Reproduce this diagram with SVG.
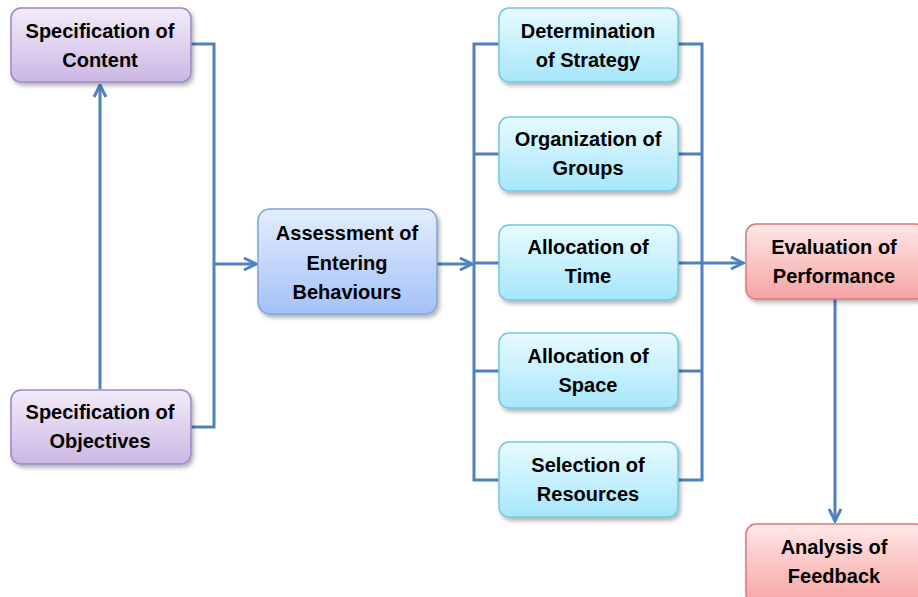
<svg xmlns="http://www.w3.org/2000/svg" width="918" height="597" viewBox="0 0 918 597">
<style>
.t{font-family:"Liberation Sans",Arial,sans-serif;font-weight:bold;font-size:20px;fill:#000;text-anchor:middle}
.c{fill:none;stroke:#4f81bd;stroke-width:3}
</style>
<defs>
<linearGradient id="gp" x1="0" y1="0" x2="0" y2="1"><stop offset="0" stop-color="#f3ecf9"/><stop offset="1" stop-color="#cbb7e3"/></linearGradient>
<linearGradient id="gb" x1="0" y1="0" x2="0" y2="1"><stop offset="0" stop-color="#e3eefe"/><stop offset="1" stop-color="#a4c1f7"/></linearGradient>
<linearGradient id="gc" x1="0" y1="0" x2="0" y2="1"><stop offset="0" stop-color="#e8fbff"/><stop offset="1" stop-color="#a6e6fa"/></linearGradient>
<linearGradient id="gr" x1="0" y1="0" x2="0" y2="1"><stop offset="0" stop-color="#ffe8e8"/><stop offset="1" stop-color="#f6a3a3"/></linearGradient>
<filter id="sh" x="-10%" y="-10%" width="125%" height="130%"><feDropShadow dx="2" dy="3" stdDeviation="2" flood-color="#000" flood-opacity="0.3"/></filter>
<marker id="ah" viewBox="0 0 10 10" refX="9" refY="5" markerWidth="5" markerHeight="5" orient="auto" markerUnits="strokeWidth"><path d="M1,1 L9,5 L1,9" fill="none" stroke="#4f81bd" stroke-width="2"/></marker>
</defs>
<g id="connectors">
<path class="c" d="M191,44 H214 V427 H191"/>
<path class="c" d="M214,264 H256" marker-end="url(#ah)"/>
<path class="c" d="M100,389 V85" marker-end="url(#ah)"/>
<path class="c" d="M437,264 H472" marker-end="url(#ah)"/>
<path class="c" d="M499,44 H474 V480 H499 M474,154 H499 M474,263 H499 M474,371 H499"/>
<path class="c" d="M678,44 H702 V480 H678 M678,154 H702 M678,263 H702 M678,371 H702"/>
<path class="c" d="M702,263 H743" marker-end="url(#ah)"/>
<path class="c" d="M835,299 V521" marker-end="url(#ah)"/>
</g>
<g id="spec-content"><rect x="11" y="8" width="180" height="74" rx="10" fill="url(#gp)" stroke="#9a86c8" stroke-width="1.5" filter="url(#sh)"/><text class="t" x="100" y="38">Specification of</text><text class="t" x="100" y="67">Content</text></g>
<g id="spec-objectives"><rect x="11" y="390" width="180" height="74" rx="10" fill="url(#gp)" stroke="#9a86c8" stroke-width="1.5" filter="url(#sh)"/><text class="t" x="100" y="419">Specification of</text><text class="t" x="100" y="448">Objectives</text></g>
<g id="assessment"><rect x="258" y="209" width="179" height="105" rx="12" fill="url(#gb)" stroke="#7fa3da" stroke-width="1.5" filter="url(#sh)"/><text class="t" x="347" y="240">Assessment of</text><text class="t" x="347" y="270">Entering</text><text class="t" x="347" y="299">Behaviours</text></g>
<g id="strategy"><rect x="499" y="8" width="179" height="74" rx="10" fill="url(#gc)" stroke="#72c8e2" stroke-width="1.5" filter="url(#sh)"/><text class="t" x="588" y="38">Determination</text><text class="t" x="588" y="67">of Strategy</text></g>
<g id="groups"><rect x="499" y="117" width="179" height="74" rx="10" fill="url(#gc)" stroke="#72c8e2" stroke-width="1.5" filter="url(#sh)"/><text class="t" x="588" y="146">Organization of</text><text class="t" x="588" y="175">Groups</text></g>
<g id="time"><rect x="499" y="225" width="179" height="75" rx="10" fill="url(#gc)" stroke="#72c8e2" stroke-width="1.5" filter="url(#sh)"/><text class="t" x="588" y="254">Allocation of</text><text class="t" x="588" y="283">Time</text></g>
<g id="space"><rect x="499" y="333" width="179" height="75" rx="10" fill="url(#gc)" stroke="#72c8e2" stroke-width="1.5" filter="url(#sh)"/><text class="t" x="588" y="363">Allocation of</text><text class="t" x="588" y="392">Space</text></g>
<g id="resources"><rect x="499" y="442" width="179" height="75" rx="10" fill="url(#gc)" stroke="#72c8e2" stroke-width="1.5" filter="url(#sh)"/><text class="t" x="588" y="472">Selection of</text><text class="t" x="588" y="501">Resources</text></g>
<g id="evaluation"><rect x="746" y="224" width="180" height="75" rx="10" fill="url(#gr)" stroke="#dd7777" stroke-width="1.5" filter="url(#sh)"/><text class="t" x="834" y="254">Evaluation of</text><text class="t" x="834" y="283">Performance</text></g>
<g id="feedback"><rect x="746" y="524" width="180" height="80" rx="10" fill="url(#gr)" stroke="#dd7777" stroke-width="1.5" filter="url(#sh)"/><text class="t" x="834" y="554">Analysis of</text><text class="t" x="834" y="583">Feedback</text></g>
</svg>
